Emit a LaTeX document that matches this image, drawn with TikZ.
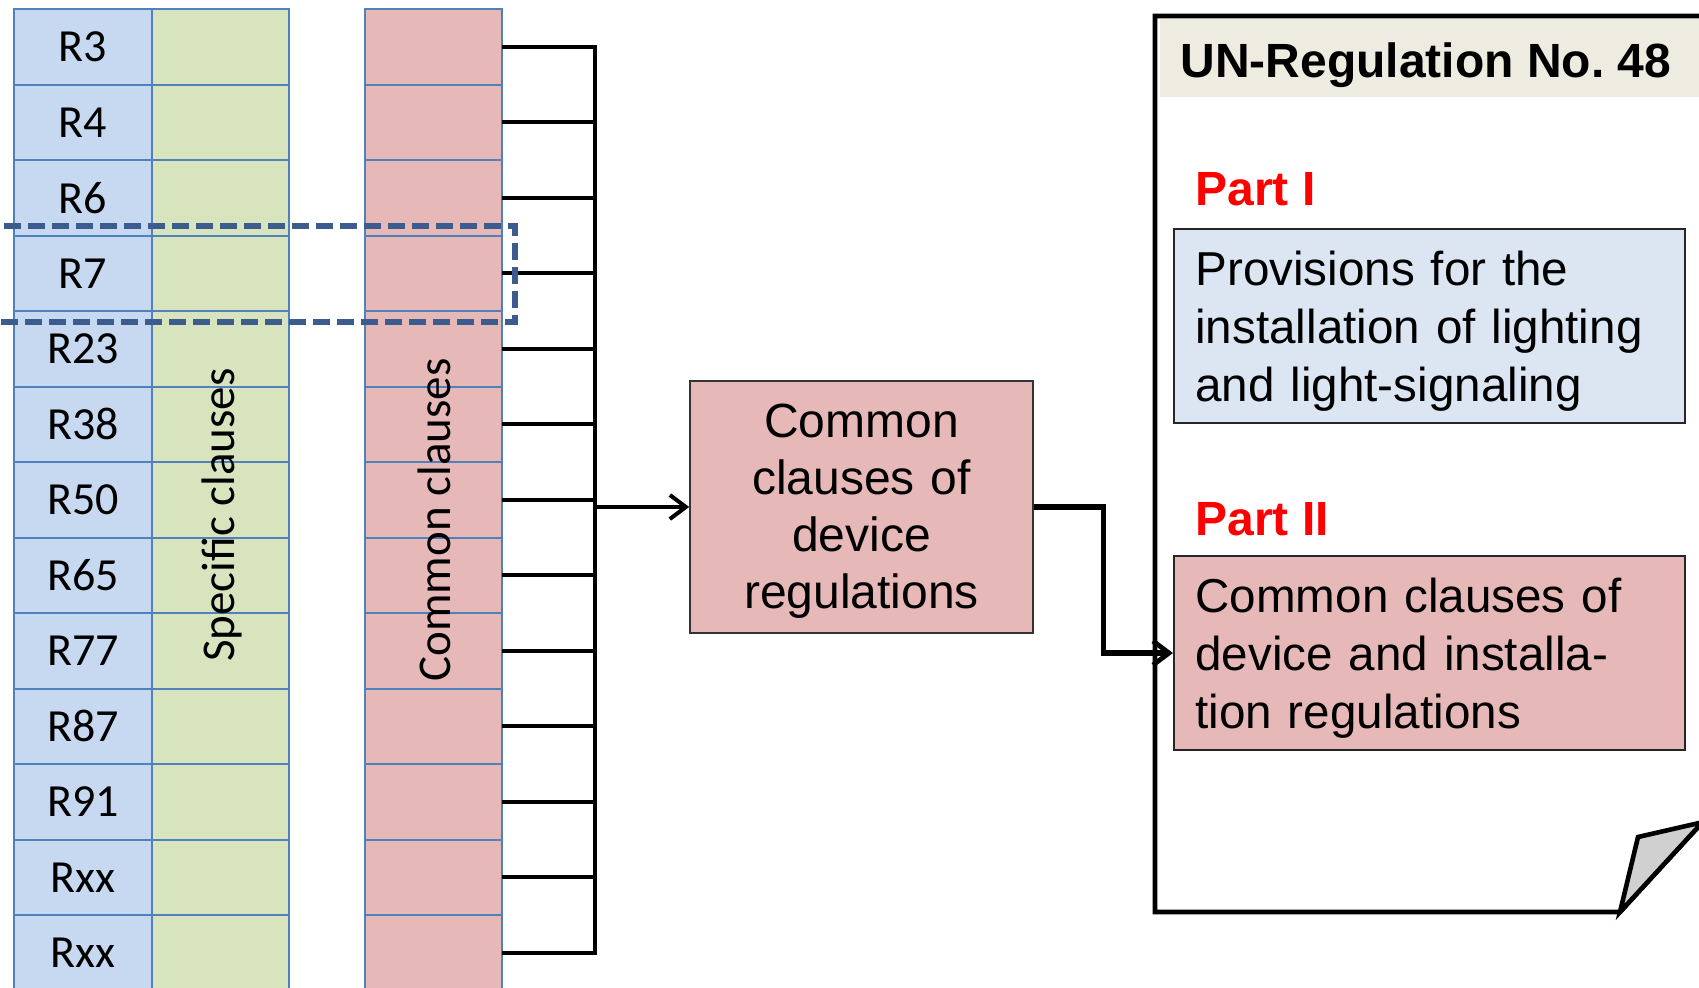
\documentclass[tikz,border=0pt]{standalone}
\usepackage{fontspec}
\setmainfont{Liberation Sans}
\newfontfamily\calib{Carlito}
\usetikzlibrary{arrows.meta}
\definecolor{cellblue}{HTML}{C6D9F1}
\definecolor{cellgreen}{HTML}{D7E4BD}
\definecolor{cellpink}{HTML}{E6B9B8}
\definecolor{cellline}{HTML}{4F81BD}
\definecolor{boxblue}{HTML}{DCE6F2}
\definecolor{headtan}{HTML}{EEECE1}
\definecolor{dashblue}{HTML}{3B5C8C}
\definecolor{foldgray}{HTML}{D0D0D0}
\begin{document}
\begin{tikzpicture}[x=0.5pt,y=-0.5pt,
  cell/.style={draw=cellline,line width=1pt,minimum height=37.75pt,inner sep=0pt,outer sep=0pt,
    font=\calib\fontsize{23}{27}\selectfont},
  bluecell/.style={cell,fill=cellblue,minimum width=69pt},
  greencell/.style={cell,fill=cellgreen,minimum width=68.5pt},
  pinkcell/.style={cell,fill=cellpink,minimum width=68.5pt},
  vlabel/.style={rotate=90,inner sep=0pt,font=\calib\fontsize{23.5}{27}\selectfont},
  bracket/.style={draw=black,line width=1.9pt},
  conn/.style={draw=black,line width=1.9pt,-{Straight Barb[length=8pt,width=12pt,line width=2pt]}},
  conntwo/.style={draw=black,line width=2.6pt,-{Straight Barb[length=8pt,width=12pt,line width=2.4pt]}},
  dashbox/.style={draw=dashblue,line width=3pt,dash pattern=on 8.5pt off 3.5pt},
  midbox/.style={draw=black!80,line width=0.8pt,fill=cellpink,minimum width=171.5pt,minimum height=126pt,inner sep=0pt},
  partbox/.style={draw=black!85,line width=1pt,minimum width=255.5pt,minimum height=97pt,inner sep=0pt},
  boxtext/.style={anchor=base west,inner sep=0pt,text width=245pt,align=left,font=\fontsize{23.8}{29}\selectfont},
  midtext/.style={anchor=base,inner sep=0pt,text width=170pt,align=center,font=\fontsize{24}{28.6}\selectfont},
  parttitle/.style={anchor=base west,inner sep=0pt,text=red,font=\bfseries\fontsize{24}{29}\selectfont},
  doc/.style={draw=black,line width=2.3pt,line join=miter}
]
\frenchspacing
\useasboundingbox (0,0) rectangle (1699,987);
\clip (0,0) rectangle (1699,987);

% left columns
\foreach \lab [count=\i] in {R3,R4,R6,R7,R23,R38,R50,R65,R77,R87,R91,Rxx,Rxx}{
  \pgfmathsetmacro\yy{9+75.5*(\i-0.5)}
  \node[bluecell] (r\i) at (83,\yy) {\lab};
  \node[greencell] (g\i) at (220.5,\yy) {};
  \node[pinkcell] (p\i) at (433.5,\yy) {};
}
\node[vlabel] (spec) at (222,515) {Specific clauses};
\node[vlabel] (comm) at (434,520) {Common clauses};

% bracket
\coordinate (brk) at (595,0);
\draw[bracket] (p1.east) -- (p1.east -| brk) -- (p13.east -| brk) -- (p13.east);
\foreach \i in {2,...,12}{
  \draw[bracket] (p\i.east) -- (p\i.east -| brk);
}

% dashed highlight
\draw[dashbox] (-20,226) -- (515,226) -- (515,322) -- (-20,322);

% middle box
\node[midbox] (mid) at (861.5,507) {};
\node[midtext] (midtxt) at (861.5,437) {Common\\clauses of\\device\\regulations};
\draw[conn] (mid.west -| brk) -- (mid.west);

% document
\fill[headtan] (1160,19) rectangle (1720,97);
\draw[doc] (1730,16) -- (1155,16) -- (1155,912) -- (1620,912) -- (1702.5,822.2);
\filldraw[doc,fill=foldgray] (1620,912) -- (1638,837) -- (1702.5,822.2) -- cycle;
\node[anchor=base west,inner sep=0pt,font=\bfseries\fontsize{24}{29}\selectfont] (title) at (1180,77) {UN-Regulation No. 48};

\node[parttitle] (part1) at (1195,205) {Part I};
\node[partbox,fill=boxblue] (box1) at (1429.5,326) {};
\node[boxtext] (box1txt) at (1195,285) {Provisions for the\\installation of lighting\\and light-signaling};

\node[parttitle] (part2) at (1195,535) {Part II};
\node[partbox,fill=cellpink] (box2) at (1429.5,653) {};
\node[boxtext] (box2txt) at (1195,612) {Common clauses of\\device and installa-\\tion regulations};

\draw[conntwo] (mid.east) -- ++(70,0) |- (box2.west);
\end{tikzpicture}
\end{document}
